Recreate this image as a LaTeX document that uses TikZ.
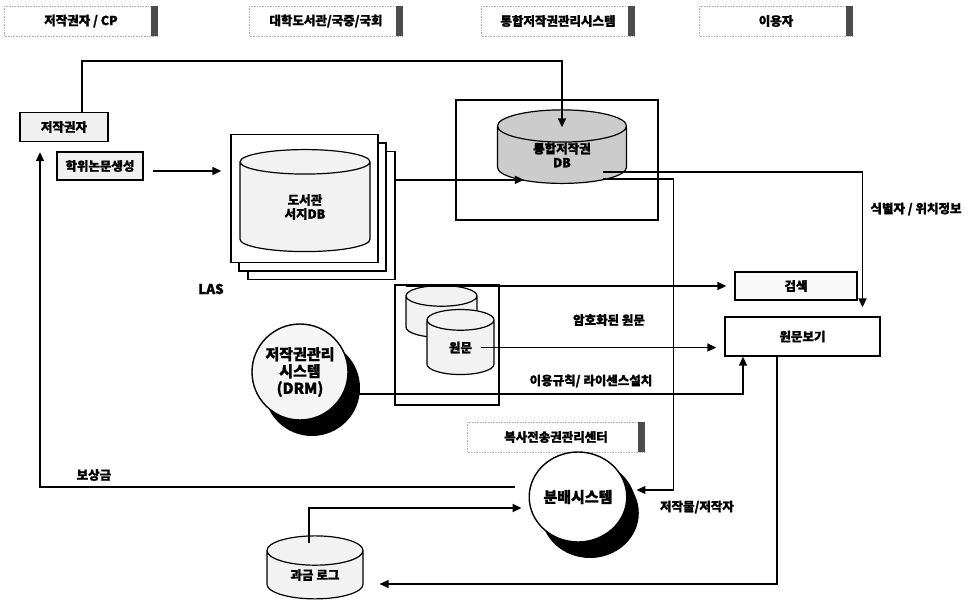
\documentclass[tikz,border=0pt]{standalone}
\usepackage{fontspec}
\setmainfont{Noto Sans CJK KR}[BoldFeatures={FakeBold=1.2}]
\usetikzlibrary{shapes.geometric,arrows.meta,calc,shadows}

\begin{document}
\begin{tikzpicture}
  [x=1pt,y=-1pt,
   line width=1.6pt,
   >={Triangle[length=9pt,width=8pt]},
   font=\bfseries\fontsize{12.5}{14}\selectfont,
   boxN/.style={draw,line width=1.3pt,fill=gray!12,inner sep=0pt},
   tagN/.style={draw=gray!60,densely dotted,line width=0.6pt,minimum width=153pt,minimum height=30pt},
   dbN/.style={cylinder,shape border rotate=90,draw,line width=1.2pt,fill=gray!10,align=center,inner sep=0pt},
   stackN/.style={draw,line width=1.3pt,fill=white,minimum width=147pt,minimum height=128pt},
   frameN/.style={draw,line width=1.3pt},
   bigN/.style={draw,line width=1.4pt,fill=white,align=center,font=\bfseries\fontsize{15}{17}\selectfont,
     drop shadow={shadow xshift=12pt,shadow yshift=-16pt,fill=black,opacity=1}},
   thinN/.style={line width=1.1pt},
  ]
  \useasboundingbox (0,0) rectangle (975,615);

  % top row
  \node[tagN] (tCP) at (81,21) {저작권자 / CP};
  \node[tagN] (tLib) at (326,21) {대학도서관/국중/국회};
  \node[tagN] (tSys) at (558,21) {통합저작권관리시스템};
  \node[tagN] (tUser) at (776,21) {이용자};
  \node[tagN,minimum width=177pt] (tCopy) at (556,437) {복사전송권관리센터};
  \foreach \t in {tCP,tLib,tSys,tUser,tCopy}
    \fill[black!70] ([xshift=-7pt]\t.north east) rectangle (\t.south east);

  % left side
  \node[boxN,minimum width=88pt,minimum height=29pt] (owner) at (64,127) {저작권자};
  \node[boxN,minimum width=86pt,minimum height=28pt] (thesis) at (100,166) {학위논문생성};

  % LAS stack
  \node[stackN] (las3) at (321.5,215.5) {};
  \node[stackN] (las2) at (312.5,207) {};
  \node[stackN] (las1) at (304.5,198.5) {};
  \node[dbN,minimum width=130pt,minimum height=102pt,aspect=0.6] (libdb) at (305,207) {도서관\\서지DB};
  \node[font=\bfseries\fontsize{13.5}{15}\selectfont] (las) at (211,289) {LAS};

  % integrated DB
  \node[frameN,minimum width=202pt,minimum height=120pt] (ucFrame) at (557,160) {};
  \node[dbN,fill=gray!40,minimum width=129pt,minimum height=66pt,aspect=0.56] (ucdb) at (562,155) {통합저작권\\DB};

  \node[boxN,fill=gray!5,minimum width=122pt,minimum height=28pt] (search) at (796,286) {검색};
  \node[boxN,fill=white,minimum width=155pt,minimum height=39pt] (view) at (802.5,336.5) {원문보기};

  % originals
  \node[frameN,minimum width=104pt,minimum height=120pt] (origFrame) at (447,345) {};
  \node[dbN,minimum width=71pt,minimum height=52pt,aspect=0.9] (orig2) at (441.5,317) {\phantom{원문}};
  \node[dbN,minimum width=67pt,minimum height=65pt,aspect=0.9] (orig1) at (460.5,347.5) {원문};

  \node[bigN,circle,fill=gray!8,minimum size=96pt,inner sep=0pt] (drm) at (300,372) {저작권관리\\시스템\\(DRM)};
  \node[bigN,ellipse,minimum width=86pt,minimum height=90pt,inner sep=0pt,
    drop shadow={shadow xshift=9pt,shadow yshift=-9pt,fill=black,opacity=1}] (dist) at (578,497) {분배시스템};
  \node[dbN,minimum width=96pt,minimum height=63pt,aspect=0.6] (bill) at (315,575) {과금 로그};

  % labels
  \node (lblId) at (916,209) {식별자 / 위치정보};
  \node (lblEnc) at (609,320) {암호화된 원문};
  \node (lblLic) at (591,381) {이용규칙/ 라이센스설치};
  \node (lblPay) at (94,475) {보상금};
  \node (lblWork) at (697,507) {저작물/저작자};

  % flows
  \draw[->] ([xshift=18pt]owner.north) |- ($(ucdb.north)+(0,-48)$) -- ($(ucdb.north)+(0,18)$);
  \draw[->,shorten <=9pt,shorten >=9pt] ([yshift=-5pt]thesis.east) -- ([yshift=-5pt]thesis.east -| las1.west);
  \draw[->] ([yshift=-29pt]las3.north east) -- ([xshift=27pt,yshift=-29pt]las3.north east -| ucdb.west);
  \draw[->,shorten >=8pt] ([xshift=10pt]las3.east |- search.west) -- (search.west);
  \draw[->,shorten >=9pt] ([xshift=-24pt,yshift=-17pt]ucdb.east) -| ([xshift=60pt]view.north);
  \draw[->,thinN] ([xshift=-24pt,yshift=-24pt]ucdb.east) -- ++(70,0) |- ([xshift=9pt,yshift=7pt]dist.east);
  \draw[->,shorten <=20pt,shorten >=8pt] (orig1.center) -- (orig1.center -| view.west);
  \draw[->] (drm.-27) -| ([xshift=-59.5pt]view.south);
  \draw[->,thinN,shorten >=16pt] ([xshift=-25.5pt]view.south) |- ([yshift=-9pt]bill.east);
  \draw[->,shorten >=7pt] ([xshift=-6pt,yshift=-8pt]bill.north) |- ([yshift=-11pt]dist.west);
  \draw[->,shorten >=10pt] ([xshift=-14pt,yshift=10pt]dist.west) -| ([xshift=-24pt]owner.south);
\end{tikzpicture}
\end{document}
